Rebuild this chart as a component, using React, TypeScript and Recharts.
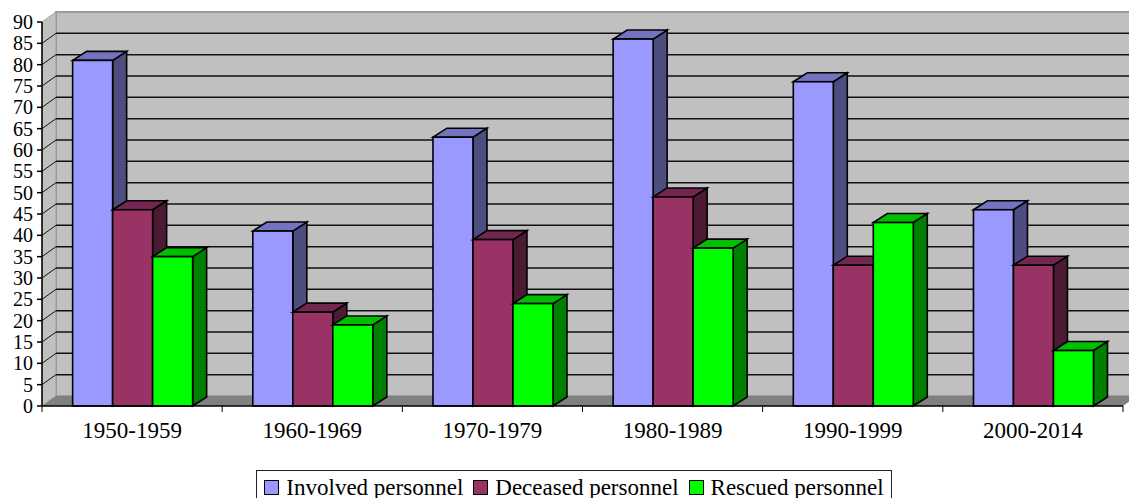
import { BarChart, Bar, XAxis, YAxis, CartesianGrid, Legend, usePlotArea } from "recharts";

const categories = ["1950-1959", "1960-1969", "1970-1979", "1980-1989", "1990-1999", "2000-2014"];
const involved = [81, 41, 63, 86, 76, 46];
const deceased = [46, 22, 39, 49, 33, 33];
const rescued = [35, 19, 24, 37, 43, 13];
const yTicks = [0, 5, 10, 15, 20, 25, 30, 35, 40, 45, 50, 55, 60, 65, 70, 75, 80, 85, 90];

const data = categories.map((period, i) => ({
  period,
  involved: involved[i],
  deceased: deceased[i],
  rescued: rescued[i],
}));

const FONT = '"Liberation Serif", serif';
// depth of the fake 3D box
const DX = 14;
const DY = -10;
const BAR_DY = -9;
const BAND = 1081 / categories.length;

// back wall, side wall and floor, drawn behind everything
function Walls() {
  const plot = usePlotArea();
  if (!plot) return null;
  const { x, y, width, height } = plot;
  const bottom = y + height;
  const right = x + width;
  return (
    <g>
      <rect x={x + DX} y={y + DY} width={width} height={height} fill="#c0c0c0" stroke="#9c9c9c" strokeWidth={2} />
      <polygon
        points={`${x},${y} ${x + DX},${y + DY} ${x + DX},${bottom + DY} ${x},${bottom}`}
        fill="#c0c0c0"
        stroke="#9c9c9c"
      />
      <polygon
        points={`${x},${bottom} ${x + DX},${bottom + DY} ${right + DX},${bottom + DY} ${right},${bottom}`}
        fill="#808080"
      />
    </g>
  );
}

function gridLine(props: any) {
  const { x1, y1, x2, y2, index } = props;
  // no line on the floor or along the top edge
  if (y1 <= 23 || y1 >= 405) return <g key={index} />;
  return (
    <g key={index}>
      <line x1={x1} y1={y1} x2={x1 + DX} y2={y1 + DY} stroke="#111" strokeWidth={1} />
      <line x1={x1 + DX} y1={y1 + DY} x2={x2 + DX} y2={y2 + DY} stroke="#111" strokeWidth={1.5} />
    </g>
  );
}

function box3d(front: string, top: string, side: string) {
  return (props: any) => {
    const { x, y, width, height } = props;
    const b = y + height;
    const r = x + width;
    return (
      <g stroke="#000" strokeWidth={1.6}>
        <polygon points={`${r},${y} ${r + DX},${y + BAR_DY} ${r + DX},${b + BAR_DY} ${r},${b}`} fill={side} />
        <polygon points={`${x},${y} ${x + DX},${y + BAR_DY} ${r + DX},${y + BAR_DY} ${r},${y}`} fill={top} />
        <rect x={x} y={y} width={width} height={height} fill={front} />
      </g>
    );
  };
}

// label in the middle of the band, tick marks on the band edges
function CategoryTick(props: any) {
  const { x, payload, index } = props;
  const left = x - BAND / 2;
  return (
    <g>
      <line x1={left} y1={406} x2={left} y2={412} stroke="#000" />
      {index === categories.length - 1 && <line x1={left + BAND} y1={406} x2={left + BAND} y2={412} stroke="#000" />}
      <text x={x} y={438} textAnchor="middle" fontFamily={FONT} fontSize={23} fill="#000">
        {payload.value}
      </text>
    </g>
  );
}

function LegendBox({ payload }: any) {
  return (
    <div
      style={{
        boxSizing: "border-box",
        height: 30,
        border: "1.5px solid #222",
        background: "#fff",
        display: "flex",
        alignItems: "center",
        justifyContent: "center",
        gap: 10,
        fontFamily: FONT,
        fontSize: 23,
        color: "#000",
        paddingTop: 5,
        whiteSpace: "nowrap",
      }}
    >
      {(payload || []).map((item: any) => (
        <span key={item.value} style={{ display: "flex", alignItems: "center", gap: 7 }}>
          <span style={{ width: 13, height: 13, background: item.color, border: "1px solid #000" }} />
          {item.value}
        </span>
      ))}
    </div>
  );
}

export default function App() {
  return (
    <div style={{ position: "absolute", left: 0, top: 0, width: 1129, height: 498, overflow: "hidden", background: "#fff" }}>
      <BarChart
        width={1129}
        height={498}
        data={data}
        margin={{ top: 22, right: 6, bottom: 0, left: 0 }}
        barCategoryGap="17%"
        barGap={0}
      >
        <Walls />
        <CartesianGrid vertical={false} horizontal={gridLine} zIndex={100} />
        <XAxis
          dataKey="period"
          height={62}
          stroke="#000"
          strokeWidth={1.5}
          tickLine={false}
          tick={<CategoryTick />}
          interval={0}
        />
        <YAxis
          width={42}
          domain={[0, 90]}
          ticks={yTicks}
          interval={0}
          stroke="#000"
          strokeWidth={1.5}
          tickSize={5}
          tickMargin={4}
          tick={{ fill: "#000", fontFamily: FONT, fontSize: 20 }}
        />
        <Legend
          verticalAlign="bottom"
          height={30}
          itemSorter={null}
          content={<LegendBox />}
          wrapperStyle={{ left: 256, width: 636, top: 470, bottom: "auto" }}
        />
        <Bar dataKey="involved" name="Involved personnel" fill="#9999ff" isAnimationActive={false} shape={box3d("#9999ff", "#7373bf", "#4d4d80")} />
        <Bar dataKey="deceased" name="Deceased personnel" fill="#993366" isAnimationActive={false} shape={box3d("#993366", "#732650", "#4d1a33")} />
        <Bar dataKey="rescued" name="Rescued personnel" fill="#00ff00" isAnimationActive={false} shape={box3d("#00ff00", "#00bf00", "#008000")} />
      </BarChart>
    </div>
  );
}
